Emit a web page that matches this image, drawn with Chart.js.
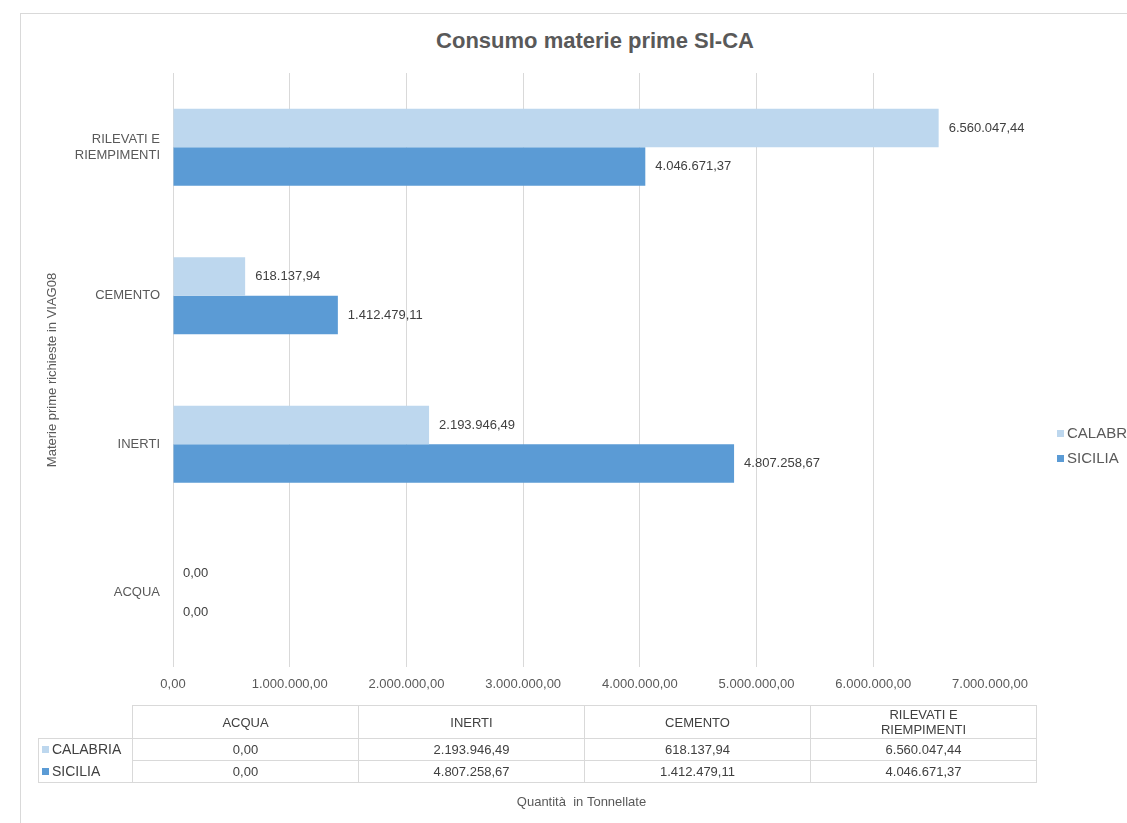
<!DOCTYPE html>
<html>
<head>
<meta charset="utf-8">
<script src="https://cdn.jsdelivr.net/npm/chart.js"></script>
<style>
  body { margin:0; width:1127px; height:823px; overflow:hidden; background:#fff; position:relative;
         font-family:"Liberation Sans", Arial, sans-serif; }
  #frame { position:absolute; left:20px; top:13px; width:1200px; height:900px; border:1px solid #d9d9d9; }
  #chartTitle { position:absolute; top:28px; left:595px; transform:translateX(-50%); font-size:22px;
                font-weight:bold; color:#595959; white-space:nowrap; }
  canvas { position:absolute; left:0; top:0; }
  #legend { position:absolute; left:1057px; top:420px; font-size:15px; color:#595959; line-height:25px; white-space:nowrap; }
  .key { display:inline-block; width:7px; height:7px; margin-right:3px; vertical-align:middle; position:relative; top:-1px; }
  #dataTable { position:absolute; left:38px; top:705px; border-collapse:collapse; table-layout:fixed;
               font-size:13px; color:#404040; }
  #dataTable td { border:1px solid #d9d9d9; text-align:center; padding:0; line-height:15px; }
  #dataTable td.rowName { text-align:left; padding-left:3px; font-size:14px; }
</style>
</head>
<body>
<div id="frame"></div>
<div id="chartTitle">Consumo materie prime SI-CA</div>
<canvas id="matChart" width="1127" height="823"></canvas>
<div id="legend"></div>
<table id="dataTable"></table>
<script>
// data
const categories = ['ACQUA', 'INERTI', 'CEMENTO', ['RILEVATI E', 'RIEMPIMENTI']];
const seriesNames = ['CALABRIA', 'SICILIA'];
const calabria = [0, 2193946.49, 618137.94, 6560047.44];
const sicilia = [0, 4807258.67, 1412479.11, 4046671.37];
const xTickValues = [0, 1000000, 2000000, 3000000, 4000000, 5000000, 6000000, 7000000];
const seriesColors = ['#bdd7ee', '#5b9bd5'];

const fontFam = '"Liberation Sans", Arial, sans-serif';

function formatIt(v) { // 6560047.44 -> 6.560.047,44
    const parts = v.toFixed(2).split('.');
    parts[0] = parts[0].replace(/\B(?=(\d{3})+(?!\d))/g, '.');
    return parts.join(',');
}

// labels at the end of each bar
const valueLabels = {
    id: 'valueLabels',
    afterDatasetsDraw(chart) {
        const ctx = chart.ctx;
        ctx.save();
        ctx.font = '13px ' + fontFam;
        ctx.fillStyle = '#404040';
        ctx.textBaseline = 'middle';
        ctx.textAlign = 'left';
        chart.data.datasets.forEach((ds, i) => {
            chart.getDatasetMeta(i).data.forEach((bar, j) => {
                ctx.fillText(formatIt(ds.data[j]), bar.x + 10, bar.y);
            });
        });
        ctx.restore();
    }
};

new Chart('matChart', {
    type: 'bar',
    data: {
        labels: categories,
        datasets: [
            { label: seriesNames[0], data: calabria, backgroundColor: seriesColors[0] },
            { label: seriesNames[1], data: sicilia, backgroundColor: seriesColors[1] }
        ]
    },
    options: {
        indexAxis: 'y',
        responsive: false,
        animation: false,
        devicePixelRatio: 1,
        layout: { padding: { top: 73, left: 40, right: 137, bottom: 0 } },
        datasets: { bar: { barPercentage: 1, categoryPercentage: 0.52 } },
        plugins: {
            legend: { display: false },
            title: { display: false },
            tooltip: { enabled: false }
        },
        scales: {
            x: {
                min: 0,
                max: 7000000,
                afterBuildTicks: s => { s.ticks = xTickValues.map(v => ({ value: v })) },
                afterFit: s => { s.height = 156 },
                ticks: {
                    padding: 10,
                    color: '#595959',
                    font: { size: 13, family: fontFam },
                    maxRotation: 0,
                    callback: v => formatIt(v)
                },
                grid: {
                    drawTicks: false,
                    color: c => (c.tick && c.tick.value === 7000000) ? 'rgba(0,0,0,0)' : '#d9d9d9'
                },
                border: { display: false },
                title: {
                    display: true,
                    text: 'Quantità  in Tonnellate',
                    color: '#595959',
                    font: { size: 13, family: fontFam },
                    padding: { top: 100, bottom: 13 }
                }
            },
            y: {
                reverse: true,
                afterFit: s => { s.width = 133 },
                ticks: {
                    padding: 13,
                    color: '#595959',
                    font: { size: 13, family: fontFam }
                },
                grid: { display: false, drawTicks: false },
                border: { display: false },
                title: {
                    display: true,
                    text: 'Materie prime richieste in VIAG08',
                    color: '#595959',
                    font: { size: 13, family: fontFam },
                    padding: { top: 5, bottom: 0 }
                }
            }
        }
    },
    plugins: [valueLabels]
});

// legend on the right (cut by the window edge like the original)
document.getElementById('legend').innerHTML = seriesNames.map((n, i) =>
    '<div><span class="key" style="background:' + seriesColors[i] + '"></span>' + n + '</div>').join('');

// data table under the axis
const allSeries = [calabria, sicilia];
let html = '<colgroup><col style="width:94px">' + categories.map(() => '<col style="width:226px">').join('') + '</colgroup>';
html += '<tr style="height:33px"><td style="border:none"></td>' +
    categories.map(c => '<td>' + (Array.isArray(c) ? c.join('<br>') : c) + '</td>').join('') + '</tr>';
allSeries.forEach((vals, i) => {
    const edge = i === 0 ? 'border-bottom:hidden' : 'border-top:hidden';
    html += '<tr style="height:22px"><td class="rowName" style="' + edge + '"><span class="key" style="background:' +
        seriesColors[i] + '"></span>' + seriesNames[i] + '</td>' +
        vals.map(v => '<td>' + formatIt(v) + '</td>').join('') + '</tr>';
});
document.getElementById('dataTable').innerHTML = html;
</script>
</body>
</html>
